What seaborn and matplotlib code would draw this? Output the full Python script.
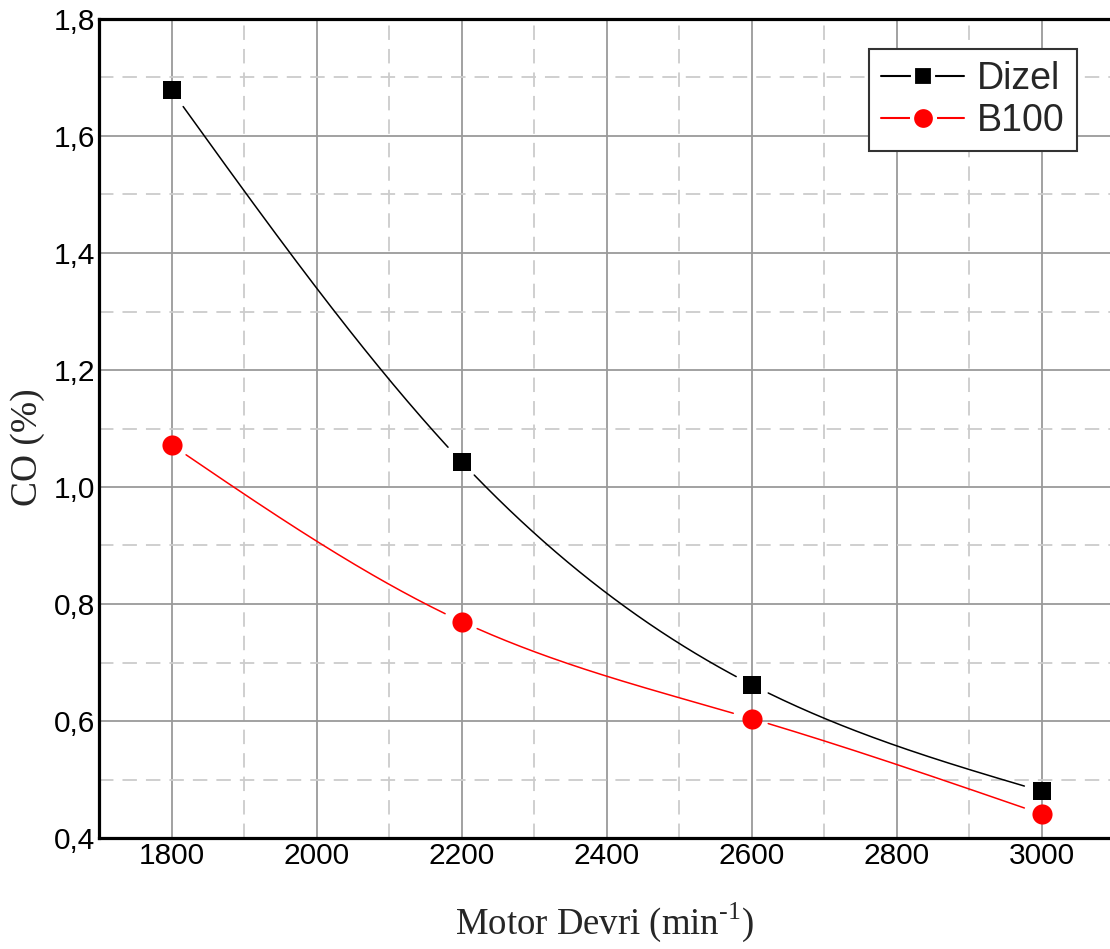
import numpy as np
import pandas as pd
import matplotlib
matplotlib.use("Agg")
import matplotlib.pyplot as plt
import seaborn as sns
from matplotlib.ticker import MultipleLocator, FuncFormatter
from matplotlib.lines import Line2D

# ---- data ----
rpm = [1800, 2200, 2600, 3000]
dizel = [1.678, 1.043, 0.662, 0.480]
b100 = [1.072, 0.770, 0.604, 0.441]
series_names = ["Dizel", "B100"]
x_label = r"Motor Devri (min$^{\text{-1}}$)"
y_label = "CO (%)"

sns.set_theme(style="white")
plt.rcParams['font.family'] = ['Liberation Sans', 'DejaVu Sans']
plt.rcParams['mathtext.fontset'] = 'custom'
plt.rcParams['mathtext.rm'] = 'Liberation Serif'

fig = plt.figure(figsize=(11.10, 9.49), dpi=100)
ax = fig.add_axes([99/1110, 1-838/949, 1-99/1110, (838-19)/949])

ax.set_xlim(1700, 3094)
ax.set_ylim(0.4, 1.8)

ax.xaxis.set_major_locator(MultipleLocator(200))
ax.xaxis.set_minor_locator(MultipleLocator(100))
ax.yaxis.set_major_locator(MultipleLocator(0.2))
ax.yaxis.set_minor_locator(MultipleLocator(0.1))
ax.grid(which="major", color="#9a9a9a", linewidth=1.3, linestyle="-")
ax.grid(which="minor", color="#cccccc", linewidth=1.3, linestyle=(0, (8, 5)))
ax.set_axisbelow(True)

def natural_spline(x, y, n=300):
    x = np.asarray(x, float); y = np.asarray(y, float)
    m = len(x); h = np.diff(x)
    A = np.zeros((m, m)); r = np.zeros(m)
    A[0, 0] = A[-1, -1] = 1
    for i in range(1, m-1):
        A[i, i-1] = h[i-1]; A[i, i] = 2*(h[i-1]+h[i]); A[i, i+1] = h[i]
        r[i] = 3*((y[i+1]-y[i])/h[i] - (y[i]-y[i-1])/h[i-1])
    c = np.linalg.solve(A, r)
    xs = np.linspace(x[0], x[-1], n); ys = np.empty_like(xs)
    for k, xv in enumerate(xs):
        i = min(np.searchsorted(x, xv, side="right")-1, m-2)
        dx = xv - x[i]
        b = (y[i+1]-y[i])/h[i] - h[i]*(2*c[i]+c[i+1])/3
        d = (c[i+1]-c[i])/(3*h[i])
        ys[k] = y[i] + b*dx + c[i]*dx**2 + d*dx**3
    return xs, ys

def gapped_curve(x, y, gap_px=17):
    xs, ys = natural_spline(x, y)
    disp = ax.transData.transform(np.column_stack([xs, ys]))
    pts = ax.transData.transform(np.column_stack([x, y]))
    dist = np.min(np.hypot(disp[:, None, 0]-pts[None, :, 0], disp[:, None, 1]-pts[None, :, 1]), axis=1)
    ys = ys.copy(); ys[dist < gap_px] = np.nan
    return xs, ys

styles = [("black", "s", 13), ("#ff0000", "o", 14.5)]
handles = []
for name, vals, (col, mk, ms) in zip(series_names, [dizel, b100], styles):
    xs, ys = gapped_curve(rpm, vals)
    ax.plot(xs, ys, color=col, linewidth=1.1, zorder=3)
    df = pd.DataFrame({"x": rpm, "y": vals})
    sns.scatterplot(data=df, x="x", y="y", ax=ax, marker=mk, s=ms**2,
                    color=col, edgecolor=col, linewidth=0, zorder=4)
    handles.append(Line2D([], [], color=col, linewidth=1.5, marker=mk,
                          markersize=ms + 2, markerfacecolor=col,
                          markeredgecolor="white", markeredgewidth=3))

leg = ax.legend(handles, series_names, loc="upper right",
                bbox_to_anchor=(0.967, 0.963), borderaxespad=0,
                fontsize=27, frameon=True, fancybox=False,
                handlelength=2.2, handletextpad=0.35, borderpad=0.32,
                labelspacing=0.15)
leg.get_frame().set_edgecolor("#333333")
leg.get_frame().set_linewidth(1.5)
leg.get_frame().set_alpha(1)

for s in ["left", "top", "bottom"]:
    ax.spines[s].set_color("black")
    ax.spines[s].set_linewidth(2.3)
ax.spines["right"].set_visible(False)

ax.tick_params(axis="both", which="both", length=0, labelsize=21.5, pad=3,
               colors="black")
ax.yaxis.set_major_formatter(FuncFormatter(lambda v, p: f"{v:.1f}".replace(".", ",")))
ax.xaxis.set_major_formatter(FuncFormatter(lambda v, p: f"{v:.0f}"))

ax.set_xlabel(x_label, fontsize=26.5, family=["Liberation Serif"], labelpad=22)
ax.set_ylabel(y_label, fontsize=27, family=["Liberation Serif"], labelpad=6)
ax.yaxis.label.set_y(0.477)

fig.savefig("out.png", dpi=100)
